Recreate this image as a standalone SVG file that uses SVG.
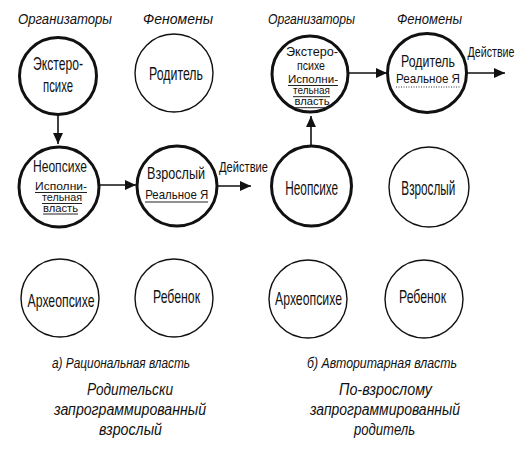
<svg xmlns="http://www.w3.org/2000/svg" width="530" height="455" viewBox="0 0 530 455">
<style>
text{font-family:"Liberation Sans","Arial",sans-serif;fill:#111;text-anchor:middle}
.hd{font-size:15px;font-style:italic}
.cap{font-size:15px;font-style:italic}
.sub{font-size:16px;font-style:italic}
.xl{font-size:20px}
.lg{font-size:18.5px}
.md{font-size:16px}
.ms{font-size:13.5px}
.sm{font-size:11.5px}
.xs{font-size:11px}
.lbl{font-size:14px}
.thick{fill:#fff;stroke:#111;stroke-width:3}
.thin{fill:#fff;stroke:#111;stroke-width:1.4}
.con{stroke:#111;stroke-width:1.6;fill:none}
.ul{stroke:#222;stroke-width:1}
.dot{stroke:#333;stroke-width:1;stroke-dasharray:1 1.5}
</style>
<defs>
<marker id="ahb" viewBox="0 0 10 10" refX="10" refY="5" markerWidth="11" markerHeight="11" markerUnits="userSpaceOnUse" orient="auto">
<path d="M0,0.5 L10,5 L0,9.5 z" fill="#111"/>
</marker>
</defs>

<g id="headers">
<text class="hd" x="65" y="24" textLength="94" lengthAdjust="spacingAndGlyphs">Организаторы</text>
<text class="hd" x="178" y="24" textLength="70" lengthAdjust="spacingAndGlyphs">Феномены</text>
<text class="hd" x="311.5" y="24" textLength="87" lengthAdjust="spacingAndGlyphs">Организаторы</text>
<text class="hd" x="429.5" y="24" textLength="65" lengthAdjust="spacingAndGlyphs">Феномены</text>
</g>

<g id="connectors">
<line class="con" x1="58" y1="115" x2="58" y2="144" marker-end="url(#ahb)"/>
<line class="con" x1="100" y1="185" x2="136" y2="185" marker-end="url(#ahb)"/>
<line class="con" x1="217" y1="186" x2="251" y2="186" marker-end="url(#ahb)"/>
<text class="lbl" x="243.5" y="172" textLength="49" lengthAdjust="spacingAndGlyphs">Действие</text>
<line class="con" x1="311" y1="145" x2="311" y2="116" marker-end="url(#ahb)"/>
<line class="con" x1="348" y1="73" x2="387" y2="73" marker-end="url(#ahb)"/>
<line class="con" x1="467" y1="73" x2="505" y2="73" marker-end="url(#ahb)"/>
<text class="lbl" x="491" y="57" textLength="47" lengthAdjust="spacingAndGlyphs">Действие</text>
</g>

<g id="a-extero">
<circle class="thick" cx="58" cy="76" r="38.5"/>
<text class="lg" x="58" y="70" textLength="50" lengthAdjust="spacingAndGlyphs">Экстеро-</text>
<text class="lg" x="58" y="92" textLength="30" lengthAdjust="spacingAndGlyphs">психе</text>
</g>
<g id="a-parent">
<circle class="thin" cx="174" cy="73" r="39"/>
<text class="lg" x="176" y="80" textLength="54" lengthAdjust="spacingAndGlyphs">Родитель</text>
</g>
<g id="a-neo">
<circle class="thick" cx="59" cy="187" r="40"/>
<text class="md" x="60" y="172" textLength="54" lengthAdjust="spacingAndGlyphs">Неопсихе</text>
<text class="sm" x="61" y="189.5" textLength="52" lengthAdjust="spacingAndGlyphs">Исполни-</text>
<text class="sm" x="62" y="201" textLength="40" lengthAdjust="spacingAndGlyphs">тельная</text>
<text class="sm" x="60.5" y="211.5" textLength="35" lengthAdjust="spacingAndGlyphs">власть</text>
<line class="ul" x1="35" y1="192.5" x2="87" y2="192.5"/>
<line class="ul" x1="42" y1="203.5" x2="82" y2="203.5"/>
<line class="ul" x1="43" y1="214" x2="78" y2="214"/>
</g>
<g id="a-adult">
<circle class="thick" cx="177" cy="186" r="40"/>
<text class="md" x="176" y="179" textLength="58" lengthAdjust="spacingAndGlyphs">Взрослый</text>
<text class="ms" x="176.7" y="199" textLength="63" lengthAdjust="spacingAndGlyphs">Реальное Я</text>
<line class="ul" x1="145" y1="202" x2="208" y2="202"/>
</g>
<g id="a-archeo">
<circle class="thin" cx="60" cy="298" r="39"/>
<text class="lg" x="61" y="306.5" textLength="67" lengthAdjust="spacingAndGlyphs">Археопсихе</text>
</g>
<g id="a-child">
<circle class="thin" cx="174" cy="298" r="39"/>
<text class="lg" x="176.5" y="303" textLength="47" lengthAdjust="spacingAndGlyphs">Ребенок</text>
</g>

<g id="b-extero">
<circle class="thick" cx="310" cy="74" r="38"/>
<text class="ms" x="312" y="55.7" textLength="52" lengthAdjust="spacingAndGlyphs">Экстеро-</text>
<text class="ms" x="311" y="70" textLength="28" lengthAdjust="spacingAndGlyphs">психе</text>
<text class="xs" x="313" y="83" textLength="50" lengthAdjust="spacingAndGlyphs">Исполни-</text>
<text class="xs" x="311.5" y="94.3" textLength="37" lengthAdjust="spacingAndGlyphs">тельная</text>
<text class="xs" x="312" y="105" textLength="35" lengthAdjust="spacingAndGlyphs">власть</text>
<line class="ul" x1="288" y1="85.5" x2="338" y2="85.5"/>
<line class="ul" x1="293" y1="96.7" x2="330" y2="96.7"/>
<line class="ul" x1="294" y1="107.7" x2="329" y2="107.7"/>
</g>
<g id="b-parent">
<circle class="thick" cx="427" cy="73" r="39.5"/>
<text class="md" x="428" y="67" textLength="54" lengthAdjust="spacingAndGlyphs">Родитель</text>
<text class="ms" x="428" y="83" textLength="64" lengthAdjust="spacingAndGlyphs">Реальное Я</text>
<line class="dot" x1="396" y1="87" x2="460" y2="87"/>
</g>
<g id="b-neo">
<circle class="thick" cx="311.5" cy="186" r="40"/>
<text class="xl" x="311.7" y="195" textLength="53" lengthAdjust="spacingAndGlyphs">Неопсихе</text>
</g>
<g id="b-adult">
<circle class="thin" cx="429" cy="187" r="40"/>
<text class="xl" x="428.3" y="195" textLength="54" lengthAdjust="spacingAndGlyphs">Взрослый</text>
</g>
<g id="b-archeo">
<circle class="thin" cx="308" cy="299" r="39"/>
<text class="lg" x="308.5" y="305" textLength="67" lengthAdjust="spacingAndGlyphs">Археопсихе</text>
</g>
<g id="b-child">
<circle class="thin" cx="424" cy="299" r="39"/>
<text class="lg" x="422.5" y="302.5" textLength="47" lengthAdjust="spacingAndGlyphs">Ребенок</text>
</g>

<g id="captions">
<text class="cap" x="121" y="368" textLength="138" lengthAdjust="spacingAndGlyphs">а) Рациональная власть</text>
<text class="sub" x="130" y="395" textLength="86" lengthAdjust="spacingAndGlyphs">Родительски</text>
<text class="sub" x="130" y="415" textLength="152" lengthAdjust="spacingAndGlyphs">запрограммированный</text>
<text class="sub" x="130.5" y="435" textLength="63" lengthAdjust="spacingAndGlyphs">взрослый</text>
<text class="cap" x="382" y="368" textLength="150" lengthAdjust="spacingAndGlyphs">б) Авторитарная власть</text>
<text class="sub" x="385.5" y="395" textLength="93" lengthAdjust="spacingAndGlyphs">По-взрослому</text>
<text class="sub" x="385" y="415" textLength="150" lengthAdjust="spacingAndGlyphs">запрограммированный</text>
<text class="sub" x="384.5" y="435" textLength="61" lengthAdjust="spacingAndGlyphs">родитель</text>
</g>
</svg>
